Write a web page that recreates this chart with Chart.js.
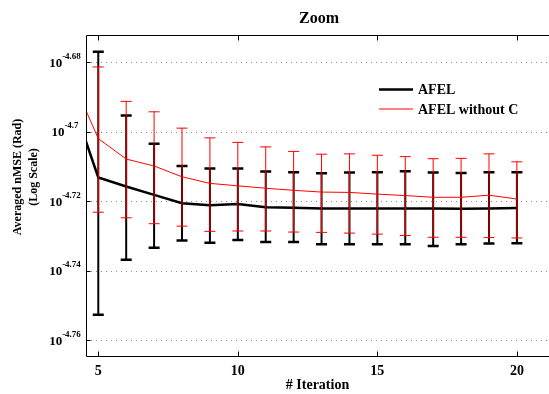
<!DOCTYPE html>
<html>
<head>
<meta charset="utf-8">
<script src="https://cdn.jsdelivr.net/npm/chart.js@4.4.0/dist/chart.umd.min.js"></script>
<style>
  html, body { margin: 0; padding: 0; background: #fff; }
  #wrap { width: 549px; height: 394px; }
</style>
</head>
<body>
<div id="wrap"><canvas id="chart" width="549" height="394"></canvas></div>
<script>
// values are log10 exponents (axis is log scale)
var iterations = [4, 5, 6, 7, 8, 9, 10, 11, 12, 13, 14, 15, 16, 17, 18, 19, 20];

var afelMean  = [-4.6896, -4.7131, -4.7157, -4.7181, -4.7205, -4.7211, -4.7207, -4.7217, -4.7218, -4.7220, -4.7220, -4.7220, -4.7220, -4.7220, -4.7221, -4.7220, -4.7219];
var afelUpper = [null, -4.6769, -4.6953, -4.7034, -4.7098, -4.7105, -4.7105, -4.7114, -4.7116, -4.7119, -4.7117, -4.7116, -4.7113, -4.7117, -4.7118, -4.7116, -4.7116];
var afelLower = [null, -4.7526, -4.7368, -4.7333, -4.7312, -4.7319, -4.7311, -4.7317, -4.7317, -4.7323, -4.7323, -4.7323, -4.7323, -4.7328, -4.7323, -4.7321, -4.7320];

var noCMean  = [-4.6836, -4.7019, -4.7078, -4.7098, -4.7129, -4.7148, -4.7155, -4.7162, -4.7168, -4.7173, -4.7174, -4.7179, -4.7183, -4.7188, -4.7188, -4.7182, -4.7193];
var noCUpper = [null, -4.6813, -4.6912, -4.6942, -4.6989, -4.7017, -4.7030, -4.7043, -4.7056, -4.7064, -4.7063, -4.7067, -4.7071, -4.7077, -4.7076, -4.7063, -4.7086];
var noCLower = [null, -4.7231, -4.7247, -4.7264, -4.7271, -4.7286, -4.7285, -4.7285, -4.7288, -4.7289, -4.7291, -4.7294, -4.7298, -4.7303, -4.7303, -4.7304, -4.7305];

var xTicks = [5, 10, 15, 20];
var yTickExps = [-4.68, -4.70, -4.72, -4.74, -4.76];
var yTickLabels = ['-4.68', '-4.7', '-4.72', '-4.74', '-4.76'];

var SERIF = '"Liberation Serif", "DejaVu Serif", serif';

function toPoints(xs, exps)
{
    return xs.map(function (x, i) { return { x: x, y: Math.pow(10, exps[i]) }; });
}

var errorSets = [
    { upper: afelUpper, lower: afelLower, color: '#000000', stem: 2, cap: 2.5, half: 5.5 },
    { upper: noCUpper, lower: noCLower, color: '#ff0000', stem: 1, cap: 1, half: 5.5 }
];

var errorBars = {
    id: 'errorBars',
    afterDatasetDraw: function (chart, args)
    {
        var set = errorSets[args.index];
        var ctx = chart.ctx, a = chart.chartArea;
        var xs = chart.scales.x, ys = chart.scales.y;
        ctx.save();
        ctx.beginPath();
        ctx.rect(a.left, a.top, a.right - a.left, a.bottom - a.top);
        ctx.clip();
        ctx.strokeStyle = set.color;
        iterations.forEach(function (it, i)
        {
            if (set.upper[i] == null) return;
            var px = xs.getPixelForValue(it);
            var top = ys.getPixelForValue(Math.pow(10, set.upper[i]));
            var bot = ys.getPixelForValue(Math.pow(10, set.lower[i]));
            ctx.lineWidth = set.stem;
            ctx.beginPath();
            ctx.moveTo(px, top);
            ctx.lineTo(px, bot);
            ctx.stroke();
            ctx.lineWidth = set.cap;
            ctx.beginPath();
            ctx.moveTo(px - set.half, top);
            ctx.lineTo(px + set.half, top);
            ctx.moveTo(px - set.half, bot);
            ctx.lineTo(px + set.half, bot);
            ctx.stroke();
        });
        ctx.restore();
    }
};

var decorations = {
    id: 'decorations',
    beforeDatasetsDraw: function (chart)
    {
        var ctx = chart.ctx, a = chart.chartArea, ys = chart.scales.y;
        ctx.save();
        ctx.strokeStyle = '#8a8a8a';
        ctx.lineWidth = 1;
        ctx.setLineDash([1, 4]);
        yTickExps.forEach(function (e)
        {
            var py = Math.round(ys.getPixelForValue(Math.pow(10, e))) + 0.5;
            ctx.beginPath();
            ctx.moveTo(a.left, py);
            ctx.lineTo(a.right, py);
            ctx.stroke();
        });
        ctx.restore();
    },
    afterDraw: function (chart)
    {
        var ctx = chart.ctx, a = chart.chartArea;
        var xs = chart.scales.x, ys = chart.scales.y;
        ctx.save();

        // box (right side is cut off in the original)
        ctx.strokeStyle = '#000';
        ctx.lineWidth = 1;
        var L = Math.round(a.left) + 0.5, T = Math.round(a.top) + 0.5, B = Math.round(a.bottom) + 0.5;
        ctx.beginPath();
        ctx.moveTo(a.right, T);
        ctx.lineTo(L, T);
        ctx.lineTo(L, B);
        ctx.lineTo(a.right, B);
        ctx.stroke();

        // inward tick marks
        ctx.beginPath();
        xTicks.forEach(function (v)
        {
            var px = Math.round(xs.getPixelForValue(v)) + 0.5;
            ctx.moveTo(px, B); ctx.lineTo(px, B - 5);
            ctx.moveTo(px, T); ctx.lineTo(px, T + 5);
        });
        yTickExps.forEach(function (e)
        {
            var py = Math.round(ys.getPixelForValue(Math.pow(10, e))) + 0.5;
            ctx.moveTo(L, py); ctx.lineTo(L + 4, py);
        });
        ctx.stroke();

        // y tick labels 10^e
        ctx.fillStyle = '#000';
        ctx.textBaseline = 'middle';
        ctx.textAlign = 'left';
        yTickExps.forEach(function (e, i)
        {
            var py = ys.getPixelForValue(Math.pow(10, e));
            ctx.font = 'bold 13px ' + SERIF;
            var wBase = ctx.measureText('10').width;
            ctx.font = 'bold 9px ' + SERIF;
            var wExp = ctx.measureText(yTickLabels[i]).width;
            var x0 = 65 - (wBase + wExp) / 2;
            ctx.font = 'bold 13px ' + SERIF;
            ctx.fillText('10', x0, py + 1);
            ctx.font = 'bold 9px ' + SERIF;
            ctx.fillText(yTickLabels[i], x0 + wBase, py - 6);
        });

        // y axis title
        ctx.save();
        ctx.translate(18, 177);
        ctx.rotate(-Math.PI / 2);
        ctx.textAlign = 'center';
        ctx.font = 'bold 12px ' + SERIF;
        ctx.fillText('Averaged nMSE (Rad)', 0, 0);
        ctx.fillText('(Log Scale)', 0, 16);
        ctx.restore();

        // title
        ctx.textAlign = 'center';
        ctx.font = 'bold 16px ' + SERIF;
        ctx.fillText('Zoom', 319, 19);

        // legend
        ctx.textAlign = 'left';
        ctx.font = 'bold 14px ' + SERIF;
        chart.data.datasets.forEach(function (ds, i)
        {
            var ly = 89.5 + i * 19.5;
            ctx.strokeStyle = ds.borderColor;
            ctx.lineWidth = ds.borderWidth;
            ctx.beginPath();
            ctx.moveTo(379, ly);
            ctx.lineTo(413, ly);
            ctx.stroke();
            ctx.fillText(ds.label, 418, ly + 1);
        });

        ctx.restore();
    }
};

new Chart(document.getElementById('chart').getContext('2d'), {
    type: 'line',
    data: {
        datasets: [
            {
                label: 'AFEL',
                data: toPoints(iterations, afelMean),
                borderColor: '#000000',
                borderWidth: 2.5,
                pointRadius: 0,
                tension: 0,
                order: 2
            },
            {
                label: 'AFEL without C',
                data: toPoints(iterations, noCMean),
                borderColor: '#ff0000',
                borderWidth: 1,
                pointRadius: 0,
                tension: 0,
                order: 1
            }
        ]
    },
    options: {
        responsive: false,
        animation: false,
        devicePixelRatio: 1,
        layout: { padding: { top: 35, left: 0, right: 0, bottom: 0 } },
        plugins: {
            legend: { display: false },
            tooltip: { enabled: false },
            title: { display: false }
        },
        scales: {
            x: {
                type: 'linear',
                min: 4.56,
                max: 21.15,
                afterBuildTicks: function (scale) { scale.ticks = xTicks.map(function (v) { return { value: v }; }); },
                afterFit: function (scale) { scale.height = 38; },
                grid: { display: false, drawTicks: false },
                border: { display: false },
                ticks: {
                    padding: 7,
                    maxRotation: 0,
                    color: '#000',
                    font: { family: SERIF, size: 14, weight: 'bold' }
                },
                title: {
                    display: true,
                    text: '# Iteration',
                    color: '#000',
                    padding: 0,
                    font: { family: SERIF, size: 14, weight: 'bold' }
                }
            },
            y: {
                type: 'logarithmic',
                min: Math.pow(10, -4.7635),
                max: Math.pow(10, -4.6721),
                afterBuildTicks: function (scale) { scale.ticks = yTickExps.map(function (e) { return { value: Math.pow(10, e) }; }); },
                afterFit: function (scale) { scale.width = 86; },
                grid: { display: false, drawTicks: false },
                border: { display: false },
                ticks: { display: false }
            }
        }
    },
    plugins: [errorBars, decorations]
});
</script>
</body>
</html>
